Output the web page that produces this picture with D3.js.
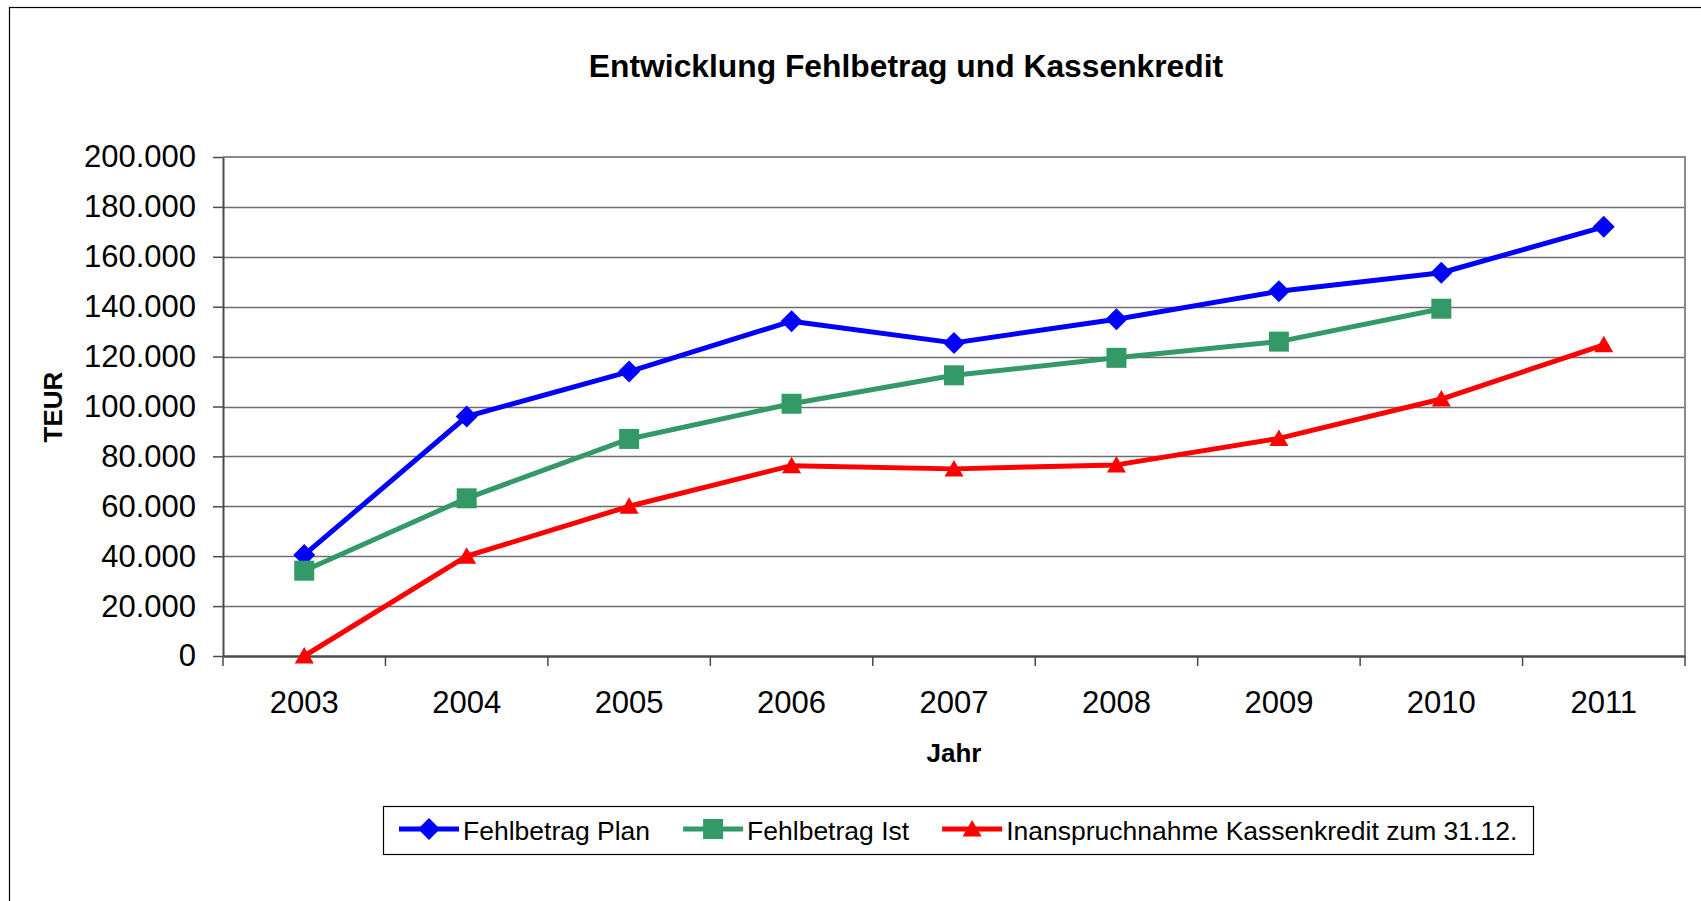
<!DOCTYPE html>
<html>
<head>
<meta charset="utf-8">
<script src="https://cdn.jsdelivr.net/npm/d3@7"></script>
<style>
  html, body { margin: 0; padding: 0; background: #fff; }
  svg { display: block; font-family: "Liberation Sans", Arial, sans-serif; }
</style>
</head>
<body>
<svg id="chart" width="1701" height="901"></svg>
<script>
// data
var years = ["2003", "2004", "2005", "2006", "2007", "2008", "2009", "2010", "2011"];
var plan = [40500, 96000, 114000, 134200, 125500, 135000, 146200, 153600, 172000];
var ist = [34200, 63200, 87000, 101100, 112500, 119500, 126000, 139200, null];
var kredit = [0, 40000, 60000, 76300, 75000, 76600, 87200, 103000, 124700];
var yTicks = [0, 20000, 40000, 60000, 80000, 100000, 120000, 140000, 160000, 180000, 200000];
var seriesNames = ["Fehlbetrag Plan", "Fehlbetrag Ist", "Inanspruchnahme Kassenkredit zum 31.12."];

var series = [
  { name: seriesNames[0], values: plan, color: "#0000ff", shape: "diamond" },
  { name: seriesNames[1], values: ist, color: "#339966", shape: "square" },
  { name: seriesNames[2], values: kredit, color: "#ff0000", shape: "triangle" }
];

var plotLeft = 223, plotRight = 1685, plotTop = 157, plotBottom = 656;

var svg = d3.select("#chart");

// outer frame
svg.append("rect")
  .attr("x", 9.5).attr("y", 7.5)
  .attr("width", 1700).attr("height", 900)
  .attr("fill", "#fff").attr("stroke", "#000").attr("stroke-width", 1.2);

var x = d3.scaleBand().domain(years).range([plotLeft, plotRight]).padding(0);
var y = d3.scaleLinear().domain([0, 200000]).range([plotBottom, plotTop]);
var cx = function(i) { return x(years[i]) + x.bandwidth() / 2; };

var de = d3.formatLocale({ decimal: ",", thousands: ".", grouping: [3], currency: ["", " €"] });
var fmt = de.format(",d");

// gridlines
svg.append("g").selectAll("line")
  .data(yTicks.filter(function(d) { return d > 0 && d < 200000; }))
  .enter().append("line")
  .attr("x1", plotLeft).attr("x2", plotRight)
  .attr("y1", function(d) { return Math.round(y(d)) + 0.5; })
  .attr("y2", function(d) { return Math.round(y(d)) + 0.5; })
  .attr("stroke", "#6e6e6e").attr("stroke-width", 1.3);

// plot border top and right
svg.append("path")
  .attr("d", "M" + plotLeft + "," + plotTop + "H" + plotRight + "V" + plotBottom)
  .attr("fill", "none").attr("stroke", "#8a8a8a").attr("stroke-width", 2);

// y axis
var yAxis = d3.axisLeft(y).tickValues(yTicks).tickFormat(fmt).tickSizeOuter(0).tickSizeInner(10).tickPadding(17);
var gy = svg.append("g").attr("transform", "translate(" + plotLeft + ",0)").call(yAxis);
gy.select(".domain").attr("stroke", "#4a4a4a").attr("stroke-width", 2);
gy.selectAll(".tick line").attr("stroke", "#4a4a4a").attr("stroke-width", 1.5);
gy.selectAll("text").attr("font-size", 31).attr("fill", "#000")
  .attr("font-family", "'Liberation Sans', Arial, sans-serif");

// x axis: labels centred, ticks on category borders
var xAxis = d3.axisBottom(x).tickSize(0).tickPadding(35);
var gx = svg.append("g").attr("transform", "translate(0," + plotBottom + ")").call(xAxis);
gx.select(".domain").attr("stroke", "#4a4a4a").attr("stroke-width", 2.5);
gx.selectAll("text").attr("font-size", 31).attr("fill", "#000")
  .attr("font-family", "'Liberation Sans', Arial, sans-serif");
var borders = years.map(function(d) { return x(d); }).concat([plotRight]);
gx.selectAll(".border").data(borders).enter().append("line")
  .attr("x1", function(d) { return d; }).attr("x2", function(d) { return d; })
  .attr("y1", 0).attr("y2", 10)
  .attr("stroke", "#4a4a4a").attr("stroke-width", 1.5);

// titles
svg.append("text").attr("x", 906).attr("y", 77).attr("text-anchor", "middle")
  .attr("font-size", 31.8).attr("font-weight", "bold").text("Entwicklung Fehlbetrag und Kassenkredit");
svg.append("text").attr("x", (plotLeft + plotRight) / 2).attr("y", 762).attr("text-anchor", "middle")
  .attr("font-size", 26).attr("font-weight", "bold").text("Jahr");
svg.append("text").attr("transform", "translate(62,407) rotate(-90)").attr("text-anchor", "middle")
  .attr("font-size", 26).attr("font-weight", "bold").text("TEUR");

function marker(g, shape, color) {
  if (shape === "diamond") {
    g.append("path").attr("d", "M0,-11L11,0L0,11L-11,0Z").attr("fill", color);
  } else if (shape === "square") {
    g.append("rect").attr("x", -10).attr("y", -10).attr("width", 20).attr("height", 20).attr("fill", color);
  } else {
    g.append("path").attr("d", "M0,-9L9.5,7.5L-9.5,7.5Z").attr("fill", color);
  }
}

// lines and markers
series.forEach(function(s) {
  var pts = s.values.map(function(v, i) { return { i: i, v: v }; }).filter(function(p) { return p.v !== null; });
  var line = d3.line().x(function(p) { return cx(p.i); }).y(function(p) { return y(p.v); });
  svg.append("path").datum(pts).attr("d", line)
    .attr("fill", "none").attr("stroke", s.color).attr("stroke-width", 5)
    .attr("stroke-linejoin", "round");
  pts.forEach(function(p) {
    var g = svg.append("g").attr("transform", "translate(" + cx(p.i) + "," + y(p.v) + ")");
    marker(g, s.shape, s.color);
  });
});

// legend
svg.append("rect").attr("x", 383.5).attr("y", 806.5).attr("width", 1150).attr("height", 48)
  .attr("fill", "#fff").attr("stroke", "#000").attr("stroke-width", 1.2);
var lx = 399;
series.forEach(function(s) {
  var g = svg.append("g").attr("transform", "translate(" + lx + ",829)");
  g.append("line").attr("x1", 0).attr("x2", 60).attr("stroke", s.color).attr("stroke-width", 5);
  var m = g.append("g").attr("transform", "translate(30,0)");
  marker(m, s.shape, s.color);
  var t = g.append("text").attr("x", 64).attr("y", 11).attr("font-size", 26.5).text(s.name);
  lx += 64 + t.node().getComputedTextLength() + 33;
});
</script>
</body>
</html>
